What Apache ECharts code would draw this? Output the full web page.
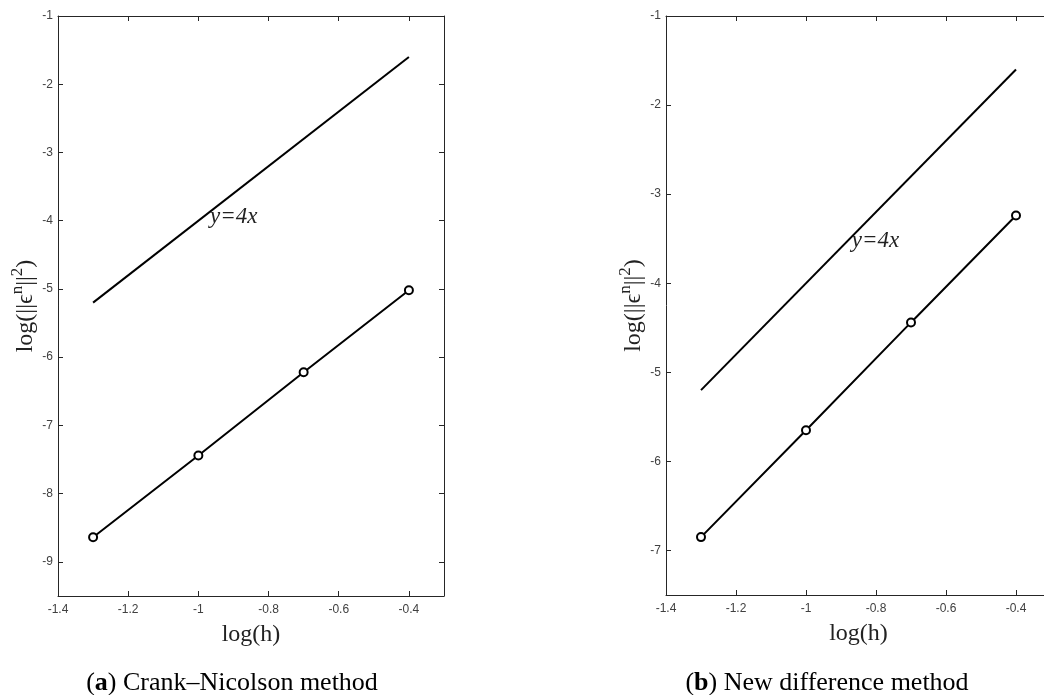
<!DOCTYPE html>
<html lang="en">
<head>
    <meta charset="UTF-8">
    <title>Convergence order</title>
    <style>
        html, body { margin: 0; padding: 0; background: #fff; }
        #chartContainer { width: 1044px; height: 695px; }
    </style>
    <script src="https://cdn.jsdelivr.net/npm/echarts@6/dist/echarts.min.js"></script>
</head>
<body>
    <div id="chartContainer"></div>
    <script>
        // data
        const logH = [-1.3, -1.0, -0.7, -0.4];
        const errCrankNicolson = [-8.64, -7.44, -6.22, -5.02];
        const errNewMethod = [-6.85, -5.65, -4.44, -3.24];
        const refX = [-1.3, -0.4];
        const refY = [-5.2, -1.6];   // y = 4x
        const xTicks = [-1.4, -1.2, -1.0, -0.8, -0.6, -0.4];
        const leftYTicks = [-9, -8, -7, -6, -5, -4, -3, -2, -1];
        const rightYTicks = [-7, -6, -5, -4, -3, -2, -1];
        const captions = ['Crank\u2013Nicolson method', 'New difference method'];

        const serif = '"Liberation Serif", "DejaVu Serif", serif';
        const sans = '"Liberation Sans", Arial, sans-serif';
        const axisColor = '#262626';

        const pairs = (xs, ys) => xs.map((x, i) => [x, ys[i]]);

        const yName = '{a|log(||\u03f5}{s|n}{a|||}{s|2}{a|)}';
        const yNameStyle = {
            rich: {
                a: { fontFamily: serif, fontSize: 24, color: '#222', lineHeight: 29, verticalAlign: 'bottom' },
                s: { fontFamily: serif, fontSize: 17, color: '#222', lineHeight: 17, verticalAlign: 'top' }
            }
        };

        function xAxes(gridIndex) {
            return [{
                type: 'value', gridIndex: gridIndex, position: 'bottom',
                min: -1.4, max: -0.3,
                name: 'log(h)', nameLocation: 'middle', nameGap: 27,
                nameTextStyle: { fontFamily: serif, fontSize: 24, color: '#222' },
                axisLine: { onZero: false, lineStyle: { color: axisColor, width: 1 } },
                axisTick: { inside: true, length: 5, customValues: xTicks, lineStyle: { color: axisColor } },
                axisLabel: { fontFamily: sans, fontSize: 12, color: '#404040', margin: 8, customValues: xTicks },
                splitLine: { show: false }
            }, {
                type: 'value', gridIndex: gridIndex, position: 'top',
                min: -1.4, max: -0.3,
                axisLine: { onZero: false, lineStyle: { color: axisColor, width: 1 } },
                axisTick: { inside: true, length: 5, customValues: xTicks, lineStyle: { color: axisColor } },
                axisLabel: { show: false, customValues: xTicks },
                splitLine: { show: false }
            }];
        }

        function yAxes(gridIndex, min, ticks) {
            return [{
                type: 'value', gridIndex: gridIndex, position: 'left',
                min: min, max: -1,
                name: yName, nameLocation: 'middle', nameRotate: 90, nameGap: 20,
                nameTextStyle: yNameStyle,
                axisLine: { onZero: false, lineStyle: { color: axisColor, width: 1 } },
                axisTick: { inside: true, length: 5, customValues: ticks, lineStyle: { color: axisColor } },
                axisLabel: { fontFamily: sans, fontSize: 12, color: '#404040', margin: 5, customValues: ticks },
                splitLine: { show: false }
            }, {
                type: 'value', gridIndex: gridIndex, position: 'right',
                min: min, max: -1,
                axisLine: { onZero: false, lineStyle: { color: axisColor, width: 1 } },
                axisTick: { inside: true, length: 5, customValues: ticks, lineStyle: { color: axisColor } },
                axisLabel: { show: false, customValues: ticks },
                splitLine: { show: false }
            }];
        }

        function refSeries(axisIdx, labelAt) {
            return {
                type: 'line', xAxisIndex: axisIdx, yAxisIndex: axisIdx,
                data: pairs(refX, refY), showSymbol: false, symbol: 'none',
                lineStyle: { color: '#000', width: 2 },
                silent: true,
                markPoint: {
                    symbolSize: 0,
                    label: {
                        show: true, position: 'right', distance: 0,
                        formatter: 'y=4x',
                        fontFamily: serif, fontStyle: 'italic', fontSize: 23, color: '#222'
                    },
                    data: [{ coord: labelAt }]
                }
            };
        }

        function errSeries(axisIdx, ys) {
            return {
                type: 'line', xAxisIndex: axisIdx, yAxisIndex: axisIdx,
                data: pairs(logH, ys),
                symbol: 'circle', symbolSize: 8, showAllSymbol: true,
                itemStyle: { color: '#fff', borderColor: '#000', borderWidth: 2 },
                lineStyle: { color: '#000', width: 2 }
            };
        }

        function caption(letter, text, x) {
            return {
                type: 'text', x: x, y: 683,
                style: {
                    text: '{n|(}{b|' + letter + '}{n|) ' + text + '}',
                    align: 'center', verticalAlign: 'middle',
                    rich: {
                        n: { fontFamily: serif, fontSize: 26, color: '#111' },
                        b: { fontFamily: serif, fontSize: 26, fontWeight: 'bold', color: '#111' }
                    }
                }
            };
        }

        const option = {
            backgroundColor: '#fff',
            animation: false,
            grid: [
                { left: 58, top: 16, width: 386, height: 580, outerBoundsMode: 'none' },
                { left: 666, top: 16, width: 385, height: 579, outerBoundsMode: 'none' }
            ],
            xAxis: [].concat(xAxes(0), xAxes(1)),
            yAxis: [].concat(yAxes(0, -9.5, leftYTicks), yAxes(1, -7.5, rightYTicks)),
            series: [
                refSeries(0, [-0.967, -3.95]),
                errSeries(0, errCrankNicolson),
                // right chart: axes 2 (bottom / left)
                refSeries(2, [-0.869, -3.53]),
                errSeries(2, errNewMethod)
            ],
            graphic: [
                caption('a', captions[0], 232),
                caption('b', captions[1], 827)
            ]
        };

        var chartDom = document.getElementById('chartContainer');
        var myChart = echarts.init(chartDom);
        myChart.setOption(option);
    </script>
</body>
</html>
